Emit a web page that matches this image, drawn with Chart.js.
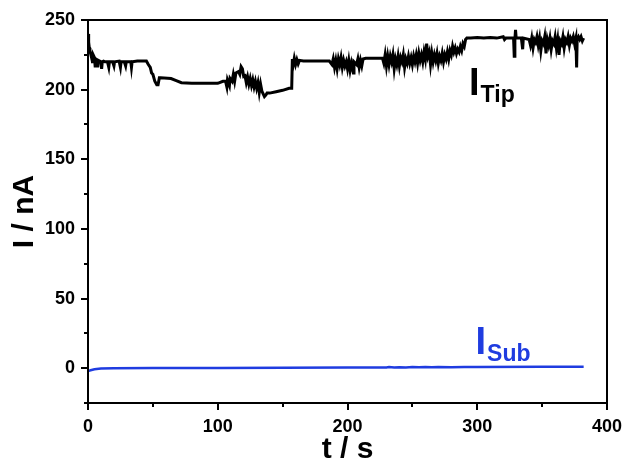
<!DOCTYPE html>
<html>
<head>
<meta charset="utf-8">
<script src="https://cdn.jsdelivr.net/npm/chart.js@4/dist/chart.umd.min.js"></script>
<style>
    html, body { margin: 0; padding: 0; background: #fff; }
    #wrap { width: 622px; height: 463px; }
</style>
</head>
<body>
<div id="wrap"><canvas id="chart" width="622" height="463"></canvas></div>
<script>
// Tip current (black trace), time in s, current in nA
const tipTime = [
    0, 0.5, 1, 1.5, 2, 3, 3.5, 4, 5, 5.5,
    6, 7, 7.5, 8, 9, 10, 10.5, 11, 12, 13,
    15, 16, 16.5, 19, 20, 20.5, 24, 25, 25.5, 28,
    29, 29.5, 33, 33.5, 34, 38, 42, 45, 46.5, 48,
    49, 50, 51.5, 53, 54, 55, 56, 64, 68, 72,
    80, 90, 100, 104, 106, 107, 107.5, 109, 109.5, 111,
    112, 113, 114, 116, 117, 118, 119, 120, 121, 122,
    123, 124, 125, 126, 127, 128, 129, 130, 131, 132,
    133, 134, 135, 136, 137, 138, 140, 145, 150, 155,
    157, 157.5, 158, 159, 160, 161, 162, 163, 166, 175,
    186, 188, 189, 190, 191, 192, 193, 194, 195, 196,
    197, 198, 199, 200, 201, 202, 203, 204.5, 205, 207,
    208, 209, 210, 211, 212, 214, 220, 227, 228, 229,
    230, 231, 232, 233, 234, 235, 236, 237, 238, 239,
    240, 241, 242, 243, 244, 245, 246, 247, 248, 249,
    250, 251, 252, 253, 254, 255, 256, 257, 258, 259,
    260, 261, 262, 263, 264, 265, 266, 267, 268, 269,
    270, 271, 272, 273, 274, 275, 276, 277, 278, 279,
    280, 281, 282, 283, 284, 285, 286, 287, 288, 289,
    290, 291, 292, 295, 300, 305, 310, 315, 320, 321,
    322, 328, 328.5, 329, 329.5, 330, 334, 335, 335.5, 340,
    341, 342, 343, 344, 345, 346, 347, 348, 349, 350,
    351, 352, 353, 354, 355, 356, 357, 358, 359, 360,
    361, 362, 363, 364, 365, 366, 367, 368, 369, 370,
    371, 372, 373, 374, 375, 376, 376.6, 377, 378, 379,
    380, 381, 382
];
const tipCurrent = [
    240, 234, 230, 228, 226, 224, 219, 225, 223, 217,
    222, 221, 216, 221, 220.5, 220, 215, 220, 220.5, 220,
    220, 216, 220, 220, 217, 220, 220.5, 216, 220, 220,
    217, 220, 220, 216, 220, 220.5, 220.5, 220.5, 218, 216,
    212, 211, 206, 203.5, 203.5, 208.5, 208.5, 208, 206.5, 205,
    204.5, 204.5, 204.5, 206, 206, 202, 207, 203, 208, 206,
    211, 206, 212, 213, 211, 216.5, 215, 209.5, 210, 205,
    209, 204, 208, 203, 207, 202, 206, 201, 205, 198,
    204, 199, 197, 195, 196, 197.5, 197.5, 198.5, 199.5, 201,
    201, 222, 217, 222.5, 218, 221.5, 218.5, 221, 220.5, 220.5,
    220.5, 218, 222, 216, 221, 215, 222, 218, 223, 216,
    221, 217, 220, 215, 221, 214, 219, 212, 220, 218,
    222, 216, 221, 217, 222, 222.5, 222.5, 222.5, 219, 225,
    217, 224, 218, 224, 220, 225, 215, 222, 218, 224,
    217, 223, 220, 225, 216, 222, 219, 224, 219, 223,
    218, 224, 220, 225, 219, 226, 221, 225, 220, 227,
    222, 233, 224, 227, 218, 226, 220, 225, 221, 226,
    219, 224, 221, 226, 220, 225, 222, 227, 222, 228,
    225, 231, 227, 230, 226, 229, 227, 231, 228, 233,
    231, 236, 237, 237, 237.5, 237, 237.5, 237, 238, 236,
    237, 237, 224, 236, 243, 237, 237, 229, 237, 236,
    232, 237, 230, 236, 234, 238, 232, 237, 228, 235,
    233, 238, 226, 236, 232, 237, 229, 235, 233, 238,
    230, 236, 225, 235, 233, 238, 230, 236, 234, 238,
    232, 237, 235, 238, 233, 237, 216, 236, 238, 236,
    238, 235, 237
];

// Substrate current (blue trace)
const subTime = [0, 2, 5, 10, 20, 50, 100, 150, 200, 230, 232, 236, 240, 245, 250, 255, 260, 265, 270, 280, 290, 300, 350, 382];
const subCurrent = [-2, -1.5, -0.8, -0.3, 0, 0.1, 0.2, 0.3, 0.4, 0.5, 0.8, 0.5, 0.7, 0.5, 0.8, 0.6, 0.8, 0.6, 0.8, 0.7, 0.8, 0.8, 1, 1];

// Axis ticks
const xTicks = [0, 100, 200, 300, 400];
const xMinorTicks = [50, 150, 250, 350];
const yTicks = [0, 50, 100, 150, 200, 250];
const yMinorTicks = [-25, 25, 75, 125, 175, 225];

// Trace labels, anchored in data units: [t, I]
const tipLabelAt = [296, 196];
const subLabelAt = [301, 10];

const BLUE = '#1f3ce0';
const FONT = '"Liberation Sans", Arial, sans-serif';

const toPoints = (xs, ys) => xs.map((x, i) => ({ x: x, y: ys[i] }));

// Frame, minor ticks and the I_Tip / I_Sub labels
const decorations = {
    id: 'decorations',
    afterDraw(chart) {
        const { ctx, chartArea: a, scales: { x, y } } = chart;
        ctx.save();
        ctx.strokeStyle = '#000';
        ctx.lineWidth = 2;
        ctx.strokeRect(a.left, a.top, a.right - a.left, a.bottom - a.top);

        ctx.beginPath();
        xMinorTicks.forEach(v => {
            const px = Math.round(x.getPixelForValue(v));
            ctx.moveTo(px, a.bottom);
            ctx.lineTo(px, a.bottom + 4);
        });
        yMinorTicks.forEach(v => {
            const py = Math.round(y.getPixelForValue(v));
            ctx.moveTo(a.left, py);
            ctx.lineTo(a.left - 4, py);
        });
        ctx.stroke();

        const label = (pos, sub, color) => {
            const px = x.getPixelForValue(pos[0]);
            const py = y.getPixelForValue(pos[1]);
            ctx.fillStyle = color;
            ctx.textBaseline = 'alphabetic';
            ctx.textAlign = 'left';
            ctx.font = 'bold 38px ' + FONT;
            ctx.fillText('I', px - 3, py);
            const w = ctx.measureText('I').width;
            ctx.font = 'bold 23px ' + FONT;
            ctx.fillText(sub, px - 3 + w + 1, py + 7);
        };
        label(tipLabelAt, 'Tip', '#000');
        label(subLabelAt, 'Sub', BLUE);
        ctx.restore();
    }
};

const ctx = document.getElementById('chart').getContext('2d');
new Chart(ctx, {
    type: 'line',
    data: {
        datasets: [
            {
                label: 'I Tip',
                data: toPoints(tipTime, tipCurrent),
                borderColor: '#000',
                borderWidth: 3,
                pointRadius: 0,
                tension: 0
            },
            {
                label: 'I Sub',
                data: toPoints(subTime, subCurrent),
                borderColor: BLUE,
                borderWidth: 2.5,
                pointRadius: 0,
                tension: 0
            }
        ]
    },
    options: {
        responsive: false,
        animation: false,
        layout: { padding: { left: 0, right: 15, top: 20, bottom: 0 } },
        plugins: {
            legend: { display: false },
            tooltip: { enabled: false }
        },
        scales: {
            x: {
                type: 'linear',
                min: 0,
                max: 400,
                afterFit: s => { s.height = 60; s.paddingLeft = 0; s.paddingRight = 0; },
                afterBuildTicks: s => { s.ticks = xTicks.map(v => ({ value: v })); },
                grid: { drawOnChartArea: false, drawTicks: true, tickLength: 7, color: '#000', lineWidth: 2 },
                border: { display: true, color: '#000', width: 2 },
                ticks: {
                    color: '#000',
                    padding: 6,
                    maxRotation: 0,
                    font: { family: FONT, size: 18, weight: 'bold' }
                },
                title: {
                    display: true,
                    text: 't / s',
                    color: '#000',
                    padding: 0,
                    font: { family: FONT, size: 30, weight: 'bold', lineHeight: 0.9 }
                }
            },
            y: {
                type: 'linear',
                min: -25,
                max: 250,
                afterFit: s => { s.width = 88; s.paddingTop = 0; s.paddingBottom = 0; },
                afterBuildTicks: s => { s.ticks = yTicks.map(v => ({ value: v })); },
                grid: { drawOnChartArea: false, drawTicks: true, tickLength: 7, color: '#000', lineWidth: 2 },
                border: { display: true, color: '#000', width: 2 },
                ticks: {
                    color: '#000',
                    padding: 6,
                    font: { family: FONT, size: 18, weight: 'bold' }
                },
                title: {
                    display: true,
                    text: 'I / nA',
                    color: '#000',
                    padding: { top: 11, bottom: 0 },
                    font: { family: FONT, size: 30, weight: 'bold', lineHeight: 0.9 }
                }
            }
        }
    },
    plugins: [decorations]
});
</script>
</body>
</html>
